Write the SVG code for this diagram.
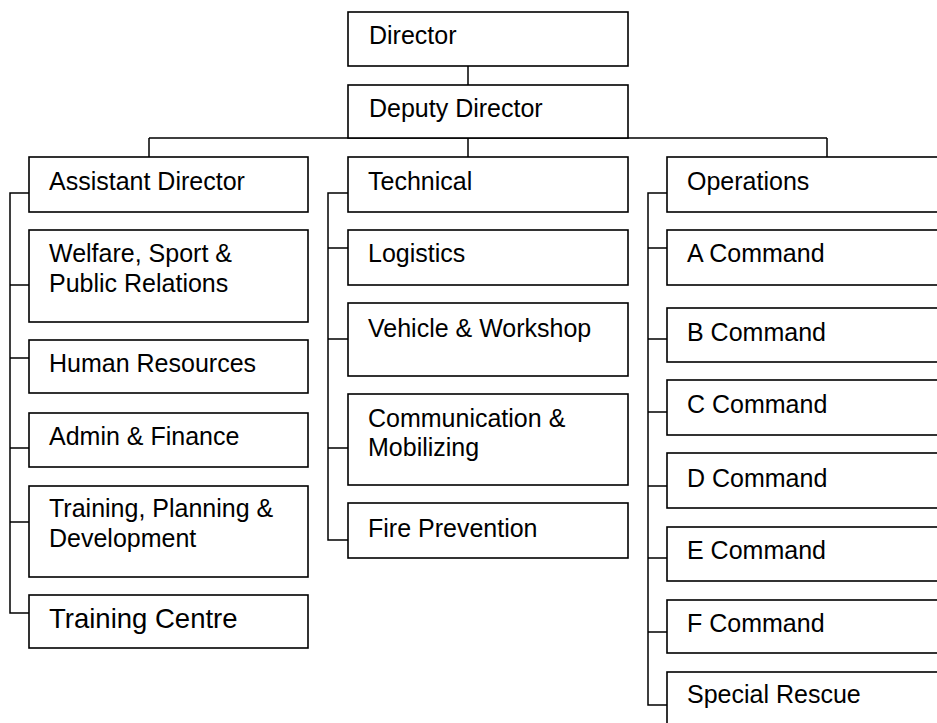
<svg xmlns="http://www.w3.org/2000/svg" width="937" height="723" viewBox="0 0 937 723">
<style>
rect{fill:#fff;stroke:#000;stroke-width:1.6}
.c{fill:none;stroke:#000;stroke-width:1.5}
text{font-family:"Liberation Sans",Arial,Helvetica,sans-serif;font-size:25px;fill:#000}
.big{font-size:27.5px}
</style>
<rect x="0" y="0" width="937" height="723" style="stroke:none"/>
<g id="connectors">
<path class="c" d="M468 66V85M149 138H827M149 138V157M468 138V157M827 138V157"/>
<path class="c" d="M29 193H10V613H29M10 285H29M10 358H29M10 448H29M10 522H29"/>
<path class="c" d="M348 193H328V540H348M328 248H348M328 339H348M328 448H348"/>
<path class="c" d="M667 193H648V705H667M648 248H667M648 339H667M648 412H667M648 486H667M648 558H667M648 632H667"/>
</g>
<g id="director"><rect x="348" y="12" width="280" height="54"/><text x="369" y="44">Director</text></g>
<g id="deputy"><rect x="348" y="85" width="280" height="53"/><text x="369" y="117">Deputy Director</text></g>
<g id="assistant"><rect x="29" y="157" width="279" height="55"/><text x="49" y="190">Assistant Director</text></g>
<g id="welfare"><rect x="29" y="230" width="279" height="92"/><text x="49" y="262">Welfare, Sport &amp;</text><text x="49" y="292">Public Relations</text></g>
<g id="hr"><rect x="29" y="340" width="279" height="53"/><text x="49" y="372">Human Resources</text></g>
<g id="admin"><rect x="29" y="413" width="279" height="54"/><text x="49" y="445">Admin &amp; Finance</text></g>
<g id="tpd"><rect x="29" y="486" width="279" height="91"/><text x="49" y="517">Training, Planning &amp;</text><text x="49" y="547">Development</text></g>
<g id="tc"><rect x="29" y="595" width="279" height="53"/><text class="big" x="49" y="628">Training Centre</text></g>
<g id="technical"><rect x="348" y="157" width="280" height="55"/><text x="368" y="190">Technical</text></g>
<g id="logistics"><rect x="348" y="230" width="280" height="55"/><text x="368" y="262">Logistics</text></g>
<g id="vehicle"><rect x="348" y="303" width="280" height="73"/><text x="368" y="337">Vehicle &amp; Workshop</text></g>
<g id="comm"><rect x="348" y="394" width="280" height="91"/><text x="368" y="427">Communication &amp;</text><text x="368" y="456">Mobilizing</text></g>
<g id="fire"><rect x="348" y="503" width="280" height="55"/><text x="368" y="537">Fire Prevention</text></g>
<g id="operations"><rect x="667" y="157" width="290" height="55"/><text x="687" y="190">Operations</text></g>
<g id="a"><rect x="667" y="230" width="290" height="55"/><text x="687" y="262">A Command</text></g>
<g id="b"><rect x="667" y="308" width="290" height="54"/><text x="687" y="341">B Command</text></g>
<g id="cc"><rect x="667" y="380" width="290" height="55"/><text x="687" y="413">C Command</text></g>
<g id="d"><rect x="667" y="453" width="290" height="55"/><text x="687" y="487">D Command</text></g>
<g id="e"><rect x="667" y="527" width="290" height="54"/><text x="687" y="559">E Command</text></g>
<g id="f"><rect x="667" y="600" width="290" height="53"/><text x="687" y="632">F Command</text></g>
<g id="sr"><rect x="667" y="672" width="290" height="80"/><text x="687" y="703">Special Rescue</text></g>
</svg>
